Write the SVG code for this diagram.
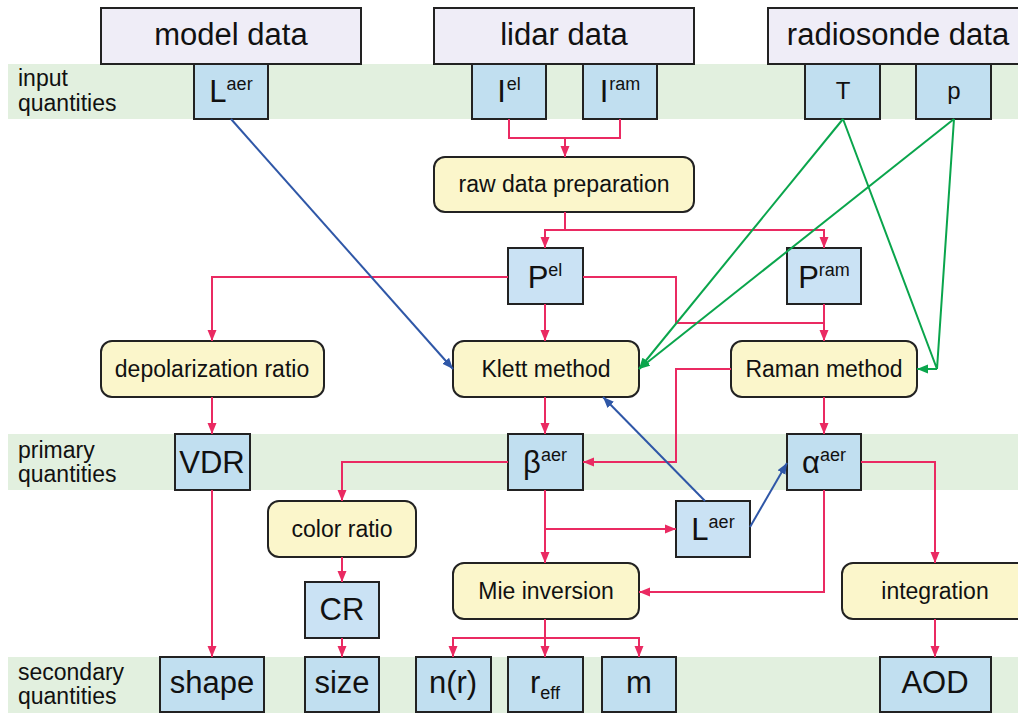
<svg xmlns="http://www.w3.org/2000/svg" width="1018" height="713" viewBox="0 0 1018 713">
<style>
.band{fill:#e2f0df}
.hdr{fill:#efedf7;stroke:#222;stroke-width:2}
.q{fill:#c1dff0;stroke:#222;stroke-width:2}
.q2{fill:#cae2f4;stroke:#222;stroke-width:2}
.proc{fill:#fbf6cb;stroke:#222;stroke-width:2}
text{font-family:"Liberation Sans",Arial,sans-serif;fill:#111}
.ht{font-size:31px;text-anchor:middle}
.bt{font-size:31px;text-anchor:middle}
.st{font-size:18px}
.tt{font-size:24px;text-anchor:middle}
.pt{font-size:23px;text-anchor:middle}
.lt{font-size:23px}
.r{fill:none;stroke:#ea2a62;stroke-width:2}
.g{fill:none;stroke:#0aa54c;stroke-width:2}
.b{fill:none;stroke:#2f57a7;stroke-width:2}
</style>
<defs>
<marker id="ar" markerUnits="userSpaceOnUse" markerWidth="12" markerHeight="10" refX="11" refY="5" orient="auto"><path d="M0,0.5 L11,5 L0,9.5 z" fill="#ea2a62"/></marker>
<marker id="ag" markerUnits="userSpaceOnUse" markerWidth="12" markerHeight="10" refX="11" refY="5" orient="auto"><path d="M0,0.5 L11,5 L0,9.5 z" fill="#0aa54c"/></marker>
<marker id="ab" markerUnits="userSpaceOnUse" markerWidth="12" markerHeight="10" refX="11" refY="5" orient="auto"><path d="M0,0.5 L11,5 L0,9.5 z" fill="#2f57a7"/></marker>
</defs>
<rect width="1018" height="713" fill="#fff"/>
<g id="bands">
<rect class="band" x="8" y="64" width="1010" height="55"/>
<rect class="band" x="8" y="434" width="1010" height="56"/>
<rect class="band" x="8" y="657" width="1010" height="56"/>
<text class="lt" x="18" y="86">input</text>
<text class="lt" x="18" y="111">quantities</text>
<text class="lt" x="18" y="458">primary</text>
<text class="lt" x="18" y="482">quantities</text>
<text class="lt" x="18" y="680">secondary</text>
<text class="lt" x="18" y="704">quantities</text>
</g>
<g id="model-data"><rect class="hdr" x="101" y="8" width="260" height="56"/><text class="ht" x="231" y="45">model data</text></g>
<g id="lidar-data"><rect class="hdr" x="434" y="8" width="260" height="56"/><text class="ht" x="564" y="45">lidar data</text></g>
<g id="radiosonde-data"><rect class="hdr" x="768" y="8" width="262" height="56"/><text class="ht" x="898" y="45">radiosonde data</text></g>
<g id="L-in"><rect class="q" x="194" y="64" width="74" height="55"/><text class="bt" x="231" y="102">L<tspan class="st" dy="-12">aer</tspan></text></g>
<g id="I-el"><rect class="q" x="472" y="64" width="74" height="55"/><text class="bt" x="509" y="102">I<tspan class="st" dx="1" dy="-12">el</tspan></text></g>
<g id="I-ram"><rect class="q" x="583" y="64" width="74" height="55"/><text class="bt" x="620" y="102">I<tspan class="st" dx="1" dy="-12">ram</tspan></text></g>
<g id="T"><rect class="q" x="805" y="64" width="75" height="55"/><text class="tt" x="843" y="99">T</text></g>
<g id="p"><rect class="q" x="916" y="64" width="75" height="55"/><text class="tt" x="954" y="99">p</text></g>
<g id="raw"><rect class="proc" x="434" y="157" width="260" height="55" rx="11"/><text class="pt" x="564" y="192">raw data preparation</text></g>
<g id="P-el"><rect class="q2" x="508" y="248" width="75" height="56"/><text class="bt" x="545" y="288">P<tspan class="st" dy="-12">el</tspan></text></g>
<g id="P-ram"><rect class="q2" x="787" y="248" width="74" height="56"/><text class="bt" x="824" y="288">P<tspan class="st" dy="-12">ram</tspan></text></g>
<g id="depol"><rect class="proc" x="101" y="341" width="223" height="56" rx="11"/><text class="pt" x="212" y="377">depolarization ratio</text></g>
<g id="klett"><rect class="proc" x="453" y="341" width="186" height="56" rx="11"/><text class="pt" x="546" y="377">Klett method</text></g>
<g id="raman"><rect class="proc" x="731" y="341" width="186" height="56" rx="11"/><text class="pt" x="824" y="377">Raman method</text></g>
<g id="VDR"><rect class="q" x="175" y="434" width="75" height="56"/><text class="bt" x="212" y="473">VDR</text></g>
<g id="beta"><rect class="q" x="508" y="434" width="75" height="56"/><text class="bt" x="545" y="473">β<tspan class="st" dy="-12">aer</tspan></text></g>
<g id="alpha"><rect class="q" x="787" y="434" width="74" height="56"/><text class="bt" x="824" y="473">α<tspan class="st" dy="-12">aer</tspan></text></g>
<g id="color-ratio"><rect class="proc" x="268" y="501" width="148" height="56" rx="11"/><text class="pt" x="342" y="537">color ratio</text></g>
<g id="L-mid"><rect class="q2" x="676" y="501" width="74" height="56"/><text class="bt" x="713" y="540">L<tspan class="st" dy="-12">aer</tspan></text></g>
<g id="CR"><rect class="q2" x="305" y="582" width="74" height="56"/><text class="bt" x="342" y="620">CR</text></g>
<g id="mie"><rect class="proc" x="453" y="563" width="186" height="56" rx="11"/><text class="pt" x="546" y="599">Mie inversion</text></g>
<g id="integration"><rect class="proc" x="842" y="563" width="190" height="56" rx="11"/><text class="pt" x="935" y="599">integration</text></g>
<g id="shape"><rect class="q" x="160" y="657" width="104" height="55"/><text class="bt" x="212" y="693">shape</text></g>
<g id="size"><rect class="q" x="305" y="657" width="74" height="55"/><text class="bt" x="342" y="693">size</text></g>
<g id="nr"><rect class="q" x="416" y="657" width="75" height="55"/><text class="bt" x="453" y="693">n(r)</text></g>
<g id="reff"><rect class="q" x="508" y="657" width="75" height="55"/><text class="bt" x="545" y="693">r<tspan class="st" dy="6">eff</tspan></text></g>
<g id="m"><rect class="q" x="602" y="657" width="74" height="55"/><text class="bt" x="639" y="693">m</text></g>
<g id="AOD"><rect class="q" x="880" y="657" width="111" height="55"/><text class="bt" x="935" y="693">AOD</text></g>
<g id="connectors">
<path class="r" d="M509,119 V138 H620 V119"/>
<path class="r" d="M565,138 V157" marker-end="url(#ar)"/>
<path class="r" d="M565,212 V230 H545 V248" marker-end="url(#ar)"/>
<path class="r" d="M565,230 H824 V248" marker-end="url(#ar)"/>
<path class="r" d="M508,277 H212 V341" marker-end="url(#ar)"/>
<path class="r" d="M545,304 V341" marker-end="url(#ar)"/>
<path class="r" d="M583,277 H676 V323 H824"/>
<path class="r" d="M824,304 V341" marker-end="url(#ar)"/>
<path class="r" d="M212,397 V434" marker-end="url(#ar)"/>
<path class="r" d="M545,397 V434" marker-end="url(#ar)"/>
<path class="r" d="M824,397 V434" marker-end="url(#ar)"/>
<path class="r" d="M731,369 H676 V462 H583" marker-end="url(#ar)"/>
<path class="r" d="M508,462 H342 V501" marker-end="url(#ar)"/>
<path class="r" d="M212,490 V657" marker-end="url(#ar)"/>
<path class="r" d="M342,557 V582" marker-end="url(#ar)"/>
<path class="r" d="M342,638 V657" marker-end="url(#ar)"/>
<path class="r" d="M545,490 V563" marker-end="url(#ar)"/>
<path class="r" d="M545,529 H676" marker-end="url(#ar)"/>
<path class="r" d="M824,490 V592 H639" marker-end="url(#ar)"/>
<path class="r" d="M861,462 H935 V563" marker-end="url(#ar)"/>
<path class="r" d="M545,619 V657" marker-end="url(#ar)"/>
<path class="r" d="M545,638 H453 V657" marker-end="url(#ar)"/>
<path class="r" d="M545,638 H639 V657" marker-end="url(#ar)"/>
<path class="r" d="M935,619 V657" marker-end="url(#ar)"/>
<path class="b" d="M231,119 L453,369" marker-end="url(#ab)"/>
<path class="b" d="M705,501 L603,397" marker-end="url(#ab)"/>
<path class="b" d="M750,527 L787,463" marker-end="url(#ab)"/>
<path class="g" d="M843,119 L639,369" marker-end="url(#ag)"/>
<path class="g" d="M954,119 L639,369" marker-end="url(#ag)"/>
<path class="g" d="M843,119 L937,369 L954,119"/>
<path class="g" d="M937,369 H917" marker-end="url(#ag)"/>
</g>
</svg>
